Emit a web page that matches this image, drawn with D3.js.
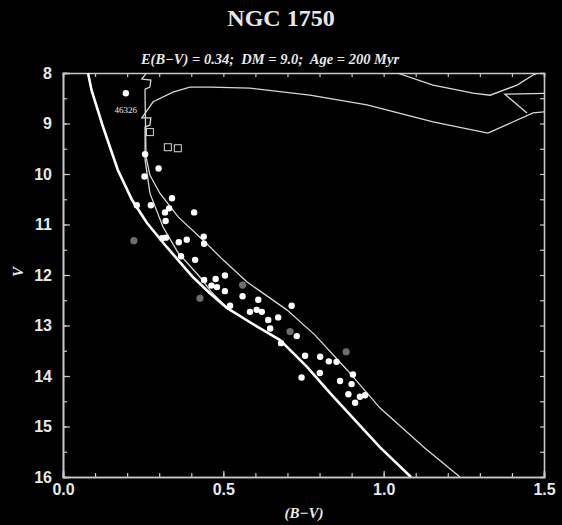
<!DOCTYPE html>
<html>
<head>
<meta charset="utf-8">
<script src="https://cdn.jsdelivr.net/npm/d3@7/dist/d3.min.js"></script>
<style>
  html, body { margin: 0; padding: 0; background: #000; }
  svg { display: block; font-family: "Liberation Serif", "DejaVu Serif", serif; }
</style>
</head>
<body>
<div id="chart"></div>
<script>
// member stars (B-V, V)
const starBV = [0.196, 0.256, 0.298, 0.254, 0.340, 0.230, 0.274, 0.331, 0.318, 0.409,
  0.320, 0.439, 0.309, 0.321, 0.361, 0.386, 0.440, 0.368, 0.412, 0.505,
  0.440, 0.476, 0.463, 0.480, 0.505, 0.560, 0.609, 0.521, 0.713, 0.583,
  0.604, 0.620, 0.640, 0.671, 0.646, 0.729, 0.680, 0.755, 0.802, 0.829,
  0.853, 0.801, 0.744, 0.864, 0.900, 0.890, 0.926, 0.942, 0.911, 0.904];
const starV = [8.40, 9.61, 9.89, 10.05, 10.48, 10.62, 10.62, 10.68, 10.76, 10.76,
  10.93, 11.24, 11.27, 11.26, 11.35, 11.30, 11.38, 11.63, 11.70, 12.01,
  12.10, 12.08, 12.21, 12.24, 12.32, 12.42, 12.49, 12.61, 12.61, 12.73,
  12.69, 12.73, 12.89, 12.84, 13.06, 13.21, 13.35, 13.60, 13.62, 13.71,
  13.72, 13.94, 14.03, 14.10, 14.16, 14.36, 14.41, 14.38, 14.53, 13.97];

// probable non-members (grey)
const fieldBV = [0.221, 0.427, 0.560, 0.708, 0.883];
const fieldV = [11.32, 12.46, 12.20, 13.12, 13.52];

// open squares
const squareBV = [0.271, 0.327, 0.358];
const squareV = [9.17, 9.47, 9.49];

// ZAMS (thick)
const zamsBV = [0.070, 0.078, 0.089, 0.125, 0.171, 0.215, 0.262, 0.324, 0.405, 0.458, 0.511, 0.592, 0.677, 0.761, 0.833, 0.988, 1.085];
const zamsV = [7.80, 8.00, 8.34, 9.07, 9.92, 10.51, 10.97, 11.45, 12.04, 12.36, 12.65, 12.97, 13.29, 13.82, 14.34, 15.41, 16.00];

// isochrone, 200 Myr
const isoBV = [0.511, 0.462, 0.427, 0.359, 0.312, 0.271, 0.256, 0.256, 0.256, 0.271, 0.274, 0.246,
  0.281, 0.343, 0.396, 0.458, 0.583, 0.770, 0.948, 1.154, 1.325, 1.466, 1.520];
const isoV = [12.65, 12.33, 12.04, 11.56, 11.05, 10.38, 9.72, 9.23, 9.07, 9.03, 8.89, 8.89,
  8.57, 8.38, 8.28, 8.28, 8.30, 8.44, 8.63, 8.97, 9.19, 8.79, 8.76];
const loopBV = [1.520, 1.378, 1.447];
const loopV = [8.40, 8.42, 8.79];

// isochrone shifted for binaries (0.75 mag)
const binBV = [1.238, 1.129, 0.988, 0.886, 0.786, 0.698, 0.574, 0.499, 0.437, 0.359, 0.302, 0.271, 0.259,
  0.256, 0.256, 0.271, 0.274, 0.246, 0.281, 0.343, 0.396, 0.458, 0.583, 0.770, 0.948, 1.042, 1.154, 1.279, 1.332, 1.416, 1.466, 1.500];
const binV = [16.00, 15.43, 14.63, 13.88, 13.19, 12.69, 12.14, 11.70, 11.31, 10.85, 10.38, 10.02, 9.66,
  8.48, 8.32, 8.28, 8.14, 8.12, 7.82, 7.63, 7.53, 7.53, 7.55, 7.69, 7.88, 8.00, 8.24, 8.40, 8.44, 8.24, 8.04, 7.95];

const xMajor = [0, 0.5, 1.0, 1.5];
const yMajor = [8, 9, 10, 11, 12, 13, 14, 15, 16];

const width = 562, height = 525;
const fg = '#e8e8e8';

const svg = d3.select('#chart').append('svg')
  .attr('width', width)
  .attr('height', height);

svg.append('rect').attr('width', width).attr('height', height).attr('fill', '#000');

const x = d3.scaleLinear().domain([0, 1.5]).range([63, 544]);
const y = d3.scaleLinear().domain([8, 16]).range([73, 477]);

svg.append('defs').append('clipPath').attr('id', 'plot-clip')
  .append('rect')
  .attr('x', 63).attr('y', 73)
  .attr('width', 544 - 63).attr('height', 477 - 73);

// axes, ticks pointing inward on all four sides
const xMinor = d3.range(0, 1.51, 0.1);
const yMinor = d3.range(8, 16.01, 0.5);

function styleAxis(g) {
  g.select('.domain').attr('stroke', '#c8c8c8').attr('stroke-width', 1.6);
  g.selectAll('.tick line').attr('stroke', '#c8c8c8').attr('stroke-width', 1.2);
  g.selectAll('.tick text')
    .attr('fill', fg)
    .attr('font-size', 16)
    .attr('font-weight', 'bold');
}

svg.append('g').attr('transform', 'translate(0,477)')
  .call(d3.axisBottom(x).tickValues(xMinor).tickSize(-4).tickFormat(''))
  .call(styleAxis);
svg.append('g').attr('transform', 'translate(0,477)')
  .call(d3.axisBottom(x).tickValues(xMajor).tickSize(-6).tickPadding(7).tickFormat(d3.format('.1f')))
  .call(styleAxis);
svg.append('g').attr('transform', 'translate(0,73)')
  .call(d3.axisTop(x).tickValues(xMinor).tickSize(-4).tickFormat(''))
  .call(styleAxis);

svg.append('g').attr('transform', 'translate(63,0)')
  .call(d3.axisLeft(y).tickValues(yMinor).tickSize(-4).tickFormat(''))
  .call(styleAxis);
svg.append('g').attr('transform', 'translate(63,0)')
  .call(d3.axisLeft(y).tickValues(yMajor).tickSize(-7).tickPadding(11).tickFormat(d3.format('d')))
  .call(styleAxis);
svg.append('g').attr('transform', 'translate(544,0)')
  .call(d3.axisRight(y).tickValues(yMinor).tickSize(-4).tickFormat(''))
  .call(styleAxis);

// curves
const plot = svg.append('g').attr('clip-path', 'url(#plot-clip)');
const line = d3.line().x(d => x(d[0])).y(d => y(d[1]));

plot.append('path')
  .datum(isoBV.map((b, i) => [b, isoV[i]]))
  .attr('d', line).attr('fill', 'none').attr('stroke', '#d8d8d8').attr('stroke-width', 1.3);
plot.append('path')
  .datum(loopBV.map((b, i) => [b, loopV[i]]))
  .attr('d', line).attr('fill', 'none').attr('stroke', '#d8d8d8').attr('stroke-width', 1.3);
plot.append('path')
  .datum(binBV.map((b, i) => [b, binV[i]]))
  .attr('d', line).attr('fill', 'none').attr('stroke', '#d8d8d8').attr('stroke-width', 1.3);
plot.append('path')
  .datum(zamsBV.map((b, i) => [b, zamsV[i]]))
  .attr('d', line).attr('fill', 'none').attr('stroke', '#fff').attr('stroke-width', 2.6);

// stars
plot.selectAll('.field')
  .data(fieldBV.map((b, i) => [b, fieldV[i]]))
  .enter().append('circle')
  .attr('class', 'field')
  .attr('cx', d => x(d[0])).attr('cy', d => y(d[1]))
  .attr('r', 3.6).attr('fill', '#6e6e6e');

plot.selectAll('.star')
  .data(starBV.map((b, i) => [b, starV[i]]))
  .enter().append('circle')
  .attr('class', 'star')
  .attr('cx', d => x(d[0])).attr('cy', d => y(d[1]))
  .attr('r', 3.2).attr('fill', '#fff');

plot.selectAll('.sq')
  .data(squareBV.map((b, i) => [b, squareV[i]]))
  .enter().append('rect')
  .attr('class', 'sq')
  .attr('x', d => x(d[0]) - 3.5).attr('y', d => y(d[1]) - 3.5)
  .attr('width', 7).attr('height', 7)
  .attr('fill', 'none').attr('stroke', '#d8d8d8').attr('stroke-width', 1);

svg.append('text')
  .attr('x', 137).attr('y', 113)
  .attr('text-anchor', 'end')
  .attr('font-size', 9)
  .attr('fill', fg)
  .text('46326');

// titles
svg.append('text')
  .attr('x', 281).attr('y', 26)
  .attr('text-anchor', 'middle')
  .attr('font-size', 24).attr('font-weight', 'bold')
  .attr('fill', fg)
  .text('NGC 1750');

svg.append('text')
  .attr('x', 270).attr('y', 64)
  .attr('text-anchor', 'middle')
  .attr('font-size', 14.5).attr('font-style', 'italic').attr('font-weight', 'bold')
  .attr('fill', fg)
  .style('white-space', 'pre')
  .text('E(B\u2212V) = 0.34;  DM = 9.0;  Age = 200 Myr');

svg.append('text')
  .attr('x', 304).attr('y', 518)
  .attr('text-anchor', 'middle')
  .attr('font-size', 15).attr('font-style', 'italic').attr('font-weight', 'bold')
  .attr('fill', fg)
  .text('(B\u2212V)');

svg.append('text')
  .attr('transform', 'translate(23,272) rotate(-90)')
  .attr('text-anchor', 'middle')
  .attr('font-size', 15).attr('font-style', 'italic').attr('font-weight', 'bold')
  .attr('fill', fg)
  .text('V');
</script>
</body>
</html>
